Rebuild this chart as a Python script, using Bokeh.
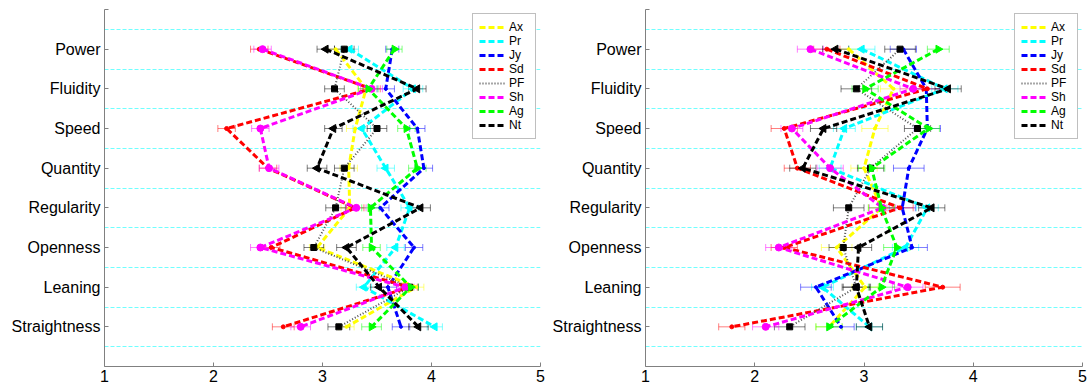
import math
from bokeh.plotting import figure
from bokeh.models import (ColumnDataSource, Whisker, TeeHead, FixedTicker,
                          Legend, LegendItem)
from bokeh.layouts import row
from bokeh.embed import file_html
from bokeh.resources import INLINE

# ---------------- data ----------------
categories = ["Power", "Fluidity", "Speed", "Quantity", "Regularity",
              "Openness", "Leaning", "Straightness"]
series_names = ["Ax", "Pr", "Jy", "Sd", "PF", "Sh", "Ag", "Nt"]
x_ticks = [1, 2, 3, 4, 5]

# left panel means (order follows categories)
left_Ax = [3.12, 3.40, 3.30, 3.24, 3.25, 2.95, 3.86, 3.22]
left_Pr = [3.25, 3.83, 3.36, 3.58, 3.80, 3.67, 3.38, 4.03]
left_Jy = [3.64, 3.58, 3.87, 3.93, 3.53, 3.84, 3.60, 3.72]
left_Sd = [2.42, 3.45, 2.12, 2.50, 3.30, 2.53, 3.80, 2.64]
left_PF = [3.20, 3.11, 3.50, 3.20, 3.12, 2.92, 3.80, 3.15]
left_Sh = [2.45, 3.45, 2.43, 2.51, 3.31, 2.43, 3.76, 2.80]
left_Ag = [3.66, 3.42, 3.77, 3.87, 3.44, 3.45, 3.81, 3.45]
left_Nt = [3.03, 3.87, 3.10, 2.95, 3.90, 3.22, 3.52, 3.88]

# left panel error half-widths
left_err_Ax = [0.08, 0.08, 0.08, 0.08, 0.08, 0.07, 0.07, 0.07]
left_err_Pr = [0.08, 0.09, 0.08, 0.08, 0.08, 0.08, 0.07, 0.07]
left_err_Jy = [0.06, 0.08, 0.07, 0.08, 0.08, 0.08, 0.08, 0.08]
left_err_Sd = [0.08, 0.08, 0.08, 0.08, 0.08, 0.08, 0.07, 0.10]
left_err_PF = [0.09, 0.09, 0.09, 0.09, 0.09, 0.09, 0.08, 0.10]
left_err_Sh = [0.08, 0.10, 0.08, 0.09, 0.09, 0.09, 0.08, 0.09]
left_err_Ag = [0.07, 0.09, 0.08, 0.08, 0.08, 0.08, 0.07, 0.09]
left_err_Nt = [0.08, 0.08, 0.08, 0.09, 0.09, 0.09, 0.08, 0.09]

# right panel means
right_Ax = [2.86, 3.27, 3.10, 3.00, 3.16, 2.75, 3.01, 2.68]
right_Pr = [2.98, 3.74, 2.82, 2.69, 3.58, 3.38, 2.62, 3.05]
right_Jy = [3.36, 3.57, 3.58, 3.41, 3.35, 3.44, 2.56, 2.79]
right_Sd = [2.66, 3.58, 2.27, 2.39, 3.33, 2.27, 3.72, 1.79]
right_PF = [3.33, 2.93, 3.49, 3.06, 2.86, 2.81, 2.93, 2.32]
right_Sh = [2.51, 3.45, 2.34, 2.69, 3.17, 2.22, 3.40, 2.10]
right_Ag = [3.68, 3.01, 3.59, 3.07, 3.16, 3.30, 3.16, 2.68]
right_Nt = [2.74, 3.77, 2.63, 2.44, 3.62, 2.95, 2.93, 3.05]

# right panel error half-widths
right_err_Ax = [0.12, 0.12, 0.12, 0.12, 0.12, 0.14, 0.12, 0.12]
right_err_Pr = [0.12, 0.12, 0.10, 0.10, 0.10, 0.12, 0.10, 0.12]
right_err_Jy = [0.12, 0.12, 0.12, 0.14, 0.12, 0.14, 0.14, 0.12]
right_err_Sd = [0.12, 0.12, 0.12, 0.12, 0.12, 0.12, 0.16, 0.12]
right_err_PF = [0.14, 0.14, 0.12, 0.12, 0.14, 0.13, 0.13, 0.14]
right_err_Sh = [0.12, 0.12, 0.10, 0.12, 0.12, 0.12, 0.14, 0.12]
right_err_Ag = [0.10, 0.12, 0.10, 0.12, 0.12, 0.12, 0.12, 0.12]
right_err_Nt = [0.12, 0.12, 0.12, 0.12, 0.12, 0.12, 0.12, 0.12]

left_vals = [left_Ax, left_Pr, left_Jy, left_Sd, left_PF, left_Sh, left_Ag, left_Nt]
left_errs = [left_err_Ax, left_err_Pr, left_err_Jy, left_err_Sd,
             left_err_PF, left_err_Sh, left_err_Ag, left_err_Nt]
right_vals = [right_Ax, right_Pr, right_Jy, right_Sd, right_PF, right_Sh, right_Ag, right_Nt]
right_errs = [right_err_Ax, right_err_Pr, right_err_Jy, right_err_Sd,
              right_err_PF, right_err_Sh, right_err_Ag, right_err_Nt]

# ---------------- styles ----------------
STY = {
    "Ax": dict(color="#ffff00", dash="6 3", width=3, marker="circle", msize=3, angle=0),
    "Pr": dict(color="#00ffff", dash="6 3", width=3, marker="triangle", msize=8, angle=math.pi / 2),
    "Jy": dict(color="#0000ff", dash="6 3", width=3, marker="circle", msize=3, angle=0),
    "Sd": dict(color="#ff0000", dash="6 3", width=3, marker="circle", msize=4, angle=0),
    "PF": dict(color="#505050", dash="1 2", width=2, marker="square", msize=6, angle=0),
    "Sh": dict(color="#ff00ff", dash="6 3", width=3, marker="circle", msize=7, angle=0),
    "Ag": dict(color="#00ff00", dash="6 3", width=3, marker="triangle", msize=8, angle=-math.pi / 2),
    "Nt": dict(color="#000000", dash="6 3", width=3, marker="triangle", msize=8, angle=math.pi / 2),
}
ERR_COLOR = {"Ax": "#ffff00", "Pr": "#00ffff", "Jy": "#0000ff", "Sd": "#ff0000",
             "PF": "#000000", "Sh": "#ff00ff", "Ag": "#00ff00", "Nt": "#000000"}

FONT = "Liberation Sans"
AXIS_GRAY = "#808080"
ypos = [len(categories) - i for i in range(len(categories))]


def make_panel(vals, errs, border_left, frame_w, border_right):
    p = figure(frame_width=frame_w, frame_height=357, x_range=(1, 5), y_range=(0, 9),
               output_backend="svg", toolbar_location=None,
               min_border_left=border_left, min_border_right=border_right,
               min_border_top=9, min_border_bottom=22)
    p.outline_line_color = None
    p.background_fill_color = "white"
    p.border_fill_color = "white"

    # grid: cyan dashed lines between categories
    p.xgrid.visible = False
    p.ygrid.ticker = FixedTicker(ticks=[y + 0.5 for y in range(0, 9)])
    p.ygrid.grid_line_color = "#70ffff"
    p.ygrid.grid_line_alpha = 1.0
    p.ygrid.grid_line_dash = "4 2"
    p.ygrid.grid_line_width = 1

    # axes
    p.xaxis.ticker = FixedTicker(ticks=x_ticks)
    p.yaxis.ticker = FixedTicker(ticks=ypos + [9])
    overrides = {y: c for y, c in zip(ypos, categories)}
    overrides[9] = ""
    p.yaxis.major_label_overrides = overrides
    for ax in (p.xaxis[0], p.yaxis[0]):
        ax.axis_line_color = AXIS_GRAY
        ax.major_tick_line_color = AXIS_GRAY
        ax.major_tick_in = 4
        ax.major_tick_out = 0
        ax.minor_tick_line_color = None
        ax.major_label_text_font = FONT
        ax.major_label_text_font_size = "16px"
        ax.major_label_text_color = "black"
    p.xaxis.major_label_standoff = 3
    p.yaxis.major_label_standoff = 4

    items = []
    for name, v, e in zip(series_names, vals, errs):
        st = STY[name]
        src = ColumnDataSource(dict(
            x=v, y=ypos,
            lo=[a - b for a, b in zip(v, e)],
            hi=[a + b for a, b in zip(v, e)]))
        ec = ERR_COLOR[name]
        wh = Whisker(source=src, base="y", lower="lo", upper="hi", dimension="width",
                     line_color=ec, line_alpha=0.5, line_width=1,
                     upper_head=TeeHead(size=7, line_color=ec, line_alpha=0.5, line_width=1),
                     lower_head=TeeHead(size=7, line_color=ec, line_alpha=0.5, line_width=1))
        p.add_layout(wh)
        lr = p.line("x", "y", source=src, line_color=st["color"], line_width=st["width"],
                    line_dash=st["dash"])
        p.scatter("x", "y", source=src, marker=st["marker"], size=st["msize"],
                  angle=st["angle"], fill_color=st["color"] if name != "PF" else "black",
                  line_color=st["color"] if name != "PF" else "black")
        items.append(LegendItem(label=name, renderers=[lr]))

    legend = Legend(items=items, location="top_right", margin=4, padding=6, spacing=0,
                    glyph_width=26, glyph_height=14, label_height=14, label_standoff=4,
                    label_text_font=FONT, label_text_font_size="12px",
                    label_text_color="black", border_line_color=AXIS_GRAY,
                    border_line_width=1, background_fill_color="white",
                    background_fill_alpha=1.0)
    p.add_layout(legend)
    return p


p_left = make_panel(left_vals, left_errs, 104, 436, 5)
p_right = make_panel(right_vals, right_errs, 100, 437, 5)

p = row(p_left, p_right)
open("out.html", "w").write(file_html(p, INLINE))
